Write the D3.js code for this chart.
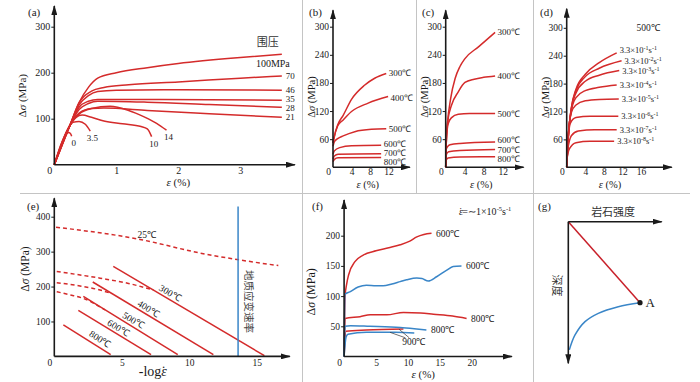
<!DOCTYPE html>
<html>
<head>
<meta charset="utf-8">
<script src="https://cdn.jsdelivr.net/npm/d3@7"></script>
<style>
  body { margin: 0; background: #fff; }
  svg { display: block; }
</style>
</head>
<body>
<svg id="chart" width="700" height="382"></svg>
<script>
// ---------- data ----------
// (a) stress-strain under different confining pressures (MPa)
const aLabels = ["100MPa", "70", "46", "35", "28", "21", "14", "10", "3.5", "0"];
const aCurves = [
    [[0, 0], [0.25, 85], [0.4, 135], [0.55, 168], [0.7, 188], [1, 200], [1.5, 211], [2, 220], [3, 233], [3.67, 240]],
    [[0, 0], [0.25, 85], [0.4, 135], [0.6, 160], [0.8, 168], [1.2, 174], [2, 180], [3, 188], [3.67, 193]],
    [[0, 0], [0.25, 85], [0.4, 130], [0.55, 150], [0.7, 159], [1, 162], [2, 163], [3.67, 162]],
    [[0, 0], [0.25, 85], [0.4, 125], [0.55, 138], [0.7, 142], [1.5, 142], [3.67, 140]],
    [[0, 0], [0.25, 85], [0.4, 120], [0.55, 133], [0.7, 138], [1.5, 136], [2.5, 131], [3.67, 125]],
    [[0, 0], [0.25, 85], [0.4, 112], [0.6, 122], [0.8, 123], [1.5, 118], [2.5, 111], [3.67, 103]],
    [[0, 0], [0.25, 85], [0.4, 110], [0.6, 122], [0.9, 127], [1.2, 118], [1.45, 104], [1.65, 90], [1.81, 75]],
    [[0, 0], [0.25, 85], [0.35, 103], [0.45, 108], [0.6, 103], [0.8, 95], [1.1, 89], [1.4, 83], [1.5, 78], [1.57, 61]],
    [[0, 0], [0.22, 78], [0.3, 92], [0.4, 94], [0.5, 88], [0.58, 73]],
    [[0, 0], [0.18, 64], [0.23, 70], [0.26, 68], [0.28, 62]]
];
const aXTicks = [1, 2, 3];
const aYTicks = [100, 200, 300];

// (b), (c) stress-strain at different temperatures
const bcTemps = ["300℃", "400℃", "500℃", "600℃", "700℃", "800℃"];
const bCurves = [
    [[0, 52], [0.2, 62], [1, 90], [2.2, 111], [4, 145], [6.8, 175], [9, 190], [11.5, 200]],
    [[0, 52], [0.2, 62], [1, 88], [2.2, 101], [4, 119], [7.6, 137], [11.9, 151]],
    [[0, 45], [0.3, 55], [1, 61], [2.2, 67], [4.7, 76], [8.3, 81], [11.5, 82]],
    [[0, 28], [0.3, 35], [1.45, 42], [4, 46], [10.4, 47]],
    [[0, 18], [0.3, 24], [1.1, 28], [10.4, 29]],
    [[0, 12], [0.3, 17], [1.1, 20.5], [10.4, 21]]
];
const cCurves = [
    [[0, 0], [0.1, 47], [0.35, 90], [1.05, 147], [2, 190], [3, 215], [4.06, 232], [6.9, 257], [10.4, 288]],
    [[0, 0], [0.1, 47], [0.4, 97], [1.24, 133], [2.65, 161], [3.5, 175], [4.06, 181], [6, 188], [8, 192], [10.4, 195]],
    [[0, 0], [0.1, 47], [0.3, 80], [0.6, 95], [1.24, 106], [2.65, 113], [5, 115], [10.4, 115]],
    [[0, 0], [0.1, 38], [0.4, 44], [0.9, 48], [3, 51], [10.4, 54]],
    [[0, 0], [0.1, 26], [0.6, 33], [3, 36], [10.4, 38]],
    [[0, 0], [0.1, 15], [0.5, 20], [3, 22], [10.4, 22.5]]
];
const bcdYTicks = [60, 120, 180, 240, 300];
const bcXTicks = [4, 8, 12];

// (d) 500℃ at different strain rates
const dRates = ["-1", "-2", "-3", "-4", "-5", "-6", "-7", "-8"];
const dCurves = [
    [[0, 0], [0.3, 60], [1, 128], [2, 168], [4, 200], [7, 225], [10.75, 246]],
    [[0, 0], [0.3, 60], [1, 127], [2, 165], [4, 195], [7, 213], [11.8, 229]],
    [[0, 0], [0.3, 60], [1, 125], [2, 160], [4, 185], [7, 198], [11.3, 208]],
    [[0, 0], [0.3, 60], [1, 122], [2, 150], [4, 165], [7, 172], [10.75, 177]],
    [[0, 0], [0.2, 50], [1, 118], [2, 134], [4, 143], [7, 146], [11.2, 147]],
    [[0, 0], [0.2, 45], [0.8, 95], [2, 107], [5, 110], [11.1, 110]],
    [[0, 0], [0.2, 35], [1, 68], [2.5, 78], [6, 81], [10.75, 81]],
    [[0, 0], [0.1, 20], [0.6, 40], [2, 53], [5, 56], [10.2, 56]]
];
const dXTicks = [4, 8, 12, 16];

// (e) strength vs -log(strain rate)
const eTemps = ["300℃", "400℃", "500℃", "600℃", "800℃"];
const eSolid = [
    [[4.37, 258], [15.57, 2]],
    [[2.85, 213], [11.79, 5]],
    [[2.15, 172], [9.15, 5]],
    [[1.78, 132], [7.17, 5]],
    [[0.67, 90], [4.18, 5]]
];
const e25 = [[0.13, 370], [6.35, 335], [10.8, 296], [16.6, 260]];
const eDashed = [
    [[0.18, 243], [3.39, 224], [5.5, 209], [7.34, 190]],
    [[0.18, 211], [2, 201], [3.39, 190], [4.25, 180]],
    [[0.18, 185], [1.2, 176], [2.15, 166], [3.76, 133]]
];
const eGeoRate = 13.62;
const eXTicks = [5, 10, 15];
const eYTicks = [100, 200, 300, 400];

// (f) strain rate ~1e-5 /s
const fRed600 = [[0, 0], [0.15, 100], [0.4, 120], [0.7, 135], [1.7, 157], [3, 168], [5, 175], [7, 180], [8.8, 185], [10.3, 191], [11.4, 198], [12.5, 202], [13.7, 204]];
const fBlue600 = [[0, 0], [0.15, 103], [0.9, 107], [2.2, 115], [3.5, 118], [5, 117], [6.1, 117], [7.5, 120], [8.8, 124], [9.8, 127], [11.4, 130], [12.2, 129], [13.2, 125], [14.5, 132], [16.1, 143], [17.1, 149], [18.4, 150]];
const fRed800 = [[0, 0], [0.15, 63], [2.5, 66], [4.1, 69], [6.7, 69], [9.3, 73], [12, 72], [14, 70], [17, 67], [19.2, 63]];
const fBlue800 = [[0, 0], [0.15, 50], [1, 51], [4, 50], [8.8, 48], [11, 46], [12.9, 44]];
const fRed900 = [[0, 0], [0.3, 42], [3.5, 44], [9.3, 45.5]];
const fBlue900 = [[0, 0], [0.3, 32], [0.6, 37], [3.5, 40], [8, 40], [11, 39]];
const fXTicks = [5, 10, 15, 20];
const fYTicks = [50, 100, 150, 200];

// (g) sketch: strength vs depth
const gRed = [[0, 0], [0.768, 0.572]];
const gBlue = [[0.768, 0.572], [0.535, 0.6], [0.321, 0.647], [0.179, 0.706], [0.072, 0.8], [0.011, 0.905]];

// ---------- drawing ----------
const red = "#d42b2b", blue = "#3a86c8", ink = "#1a1a1a";
const serif = "'Liberation Serif', 'Times New Roman', serif";
const cjk = "'Noto Sans CJK SC', sans-serif";
const svg = d3.select("#chart");

svg.append("defs").append("marker")
    .attr("id", "arrow")
    .attr("viewBox", "0 0 10 6")
    .attr("refX", 9).attr("refY", 3)
    .attr("markerWidth", 10).attr("markerHeight", 6)
    .attr("markerUnits", "userSpaceOnUse")
    .attr("orient", "auto")
    .append("path").attr("d", "M0,0L10,3L0,6Z").attr("fill", ink);

// panel separators
const sep = svg.append("g").attr("stroke", "#c4c4c4").attr("stroke-width", 1);
sep.append("line").attr("x1", 20).attr("x2", 690).attr("y1", 193.5).attr("y2", 193.5);
sep.append("line").attr("x1", 302.5).attr("x2", 302.5).attr("y1", 0).attr("y2", 382);
sep.append("line").attr("x1", 416.5).attr("x2", 416.5).attr("y1", 0).attr("y2", 193.5);
sep.append("line").attr("x1", 533.5).attr("x2", 533.5).attr("y1", 0).attr("y2", 382);

function panelLabel(txt, x, y) {
    svg.append("text").attr("x", x).attr("y", y)
        .attr("font-family", serif).attr("font-size", 11).attr("fill", ink).text(txt);
}

function sigmaTitle(g, x, y, size) {
    const t = g.append("text")
        .attr("transform", `translate(${x},${y}) rotate(-90)`)
        .attr("text-anchor", "middle")
        .attr("font-family", serif).attr("font-size", size).attr("fill", ink);
    t.append("tspan").text("Δ");
    t.append("tspan").attr("font-style", "italic").text("σ");
    t.append("tspan").text(" (MPa)");
}

function strainTitle(g, x, y, size) {
    const t = g.append("text").attr("x", x).attr("y", y)
        .attr("text-anchor", "middle")
        .attr("font-family", serif).attr("font-size", size).attr("fill", ink);
    t.append("tspan").attr("font-style", "italic").text("ε");
    t.append("tspan").text(" (%)");
}

// italic epsilon with a dot placed over it (strain rate)
function epsDot(t, size) {
    t.append("tspan").attr("font-style", "italic").text("ε");
    t.append("tspan").attr("dx", -0.4 * size).text("˙");
}

// axes with ticks, origin "0" and arrow heads
function frame(g, x, y, o) {
    g.append("g")
        .attr("transform", `translate(0,${y(0)})`)
        .call(d3.axisBottom(x).tickValues(o.xTicks).tickFormat(d3.format("d")).tickSize(0).tickPadding(o.xPad))
        .call(a => a.select(".domain").remove())
        .selectAll("text").attr("font-family", serif).attr("font-size", o.fs).attr("fill", ink);
    g.append("g")
        .attr("transform", `translate(${x(0)},0)`)
        .call(d3.axisLeft(y).tickValues(o.yTicks).tickFormat(d3.format("d")).tickSize(3).tickPadding(1))
        .call(a => a.select(".domain").remove())
        .call(a => a.selectAll("line").attr("stroke", ink))
        .selectAll("text").attr("font-family", serif).attr("font-size", o.fs).attr("fill", ink);
    g.append("text")
        .attr("x", x(0) - 2).attr("y", y(0) + o.xPad).attr("dy", "0.71em")
        .attr("text-anchor", "end")
        .attr("font-family", serif).attr("font-size", o.fs).attr("fill", ink)
        .text("0");
    g.append("line")
        .attr("x1", x(0)).attr("y1", y(0)).attr("x2", x(o.xEnd)).attr("y2", y(0))
        .attr("stroke", ink).attr("stroke-width", 1.6).attr("marker-end", "url(#arrow)");
    g.append("line")
        .attr("x1", x(0)).attr("y1", y(0)).attr("x2", x(0)).attr("y2", y(o.yEnd))
        .attr("stroke", ink).attr("stroke-width", 1.6).attr("marker-end", "url(#arrow)");
}

function curves(g, data, line, color) {
    g.append("g").selectAll("path")
        .data(data)
        .join("path")
        .attr("d", line)
        .attr("fill", "none")
        .attr("stroke", color)
        .attr("stroke-width", 1.5);
}

// ----- (a) -----
const ax = d3.scaleLinear().domain([0, 3]).range([54.3, 240.3]);
const ay = d3.scaleLinear().domain([0, 300]).range([164.7, 26.7]);
const aLine = d3.line().x(d => ax(d[0])).y(d => ay(d[1])).curve(d3.curveMonotoneX);
const ga = svg.append("g");
curves(ga, aCurves, aLine, red);
frame(ga, ax, ay, { xTicks: aXTicks, yTicks: aYTicks, xPad: 2, fs: 10, xEnd: 3.88, yEnd: 345 });
sigmaTitle(ga, ax(0) - 28, ay(150), 11);
strainTitle(ga, ax(2), ay(0) + 21.5, 11);
panelLabel("(a)", 28, 16);

const aShift = [0, 0, 0, -1, 1, 0, 0, 0, 0, 0];
aCurves.forEach((c, i) => {
    const [ex, ey] = c[c.length - 1];
    const t = ga.append("text")
        .attr("font-family", serif).attr("font-size", i === 0 ? 10 : 9).attr("fill", ink)
        .text(aLabels[i]);
    if (i === 0) {
        t.attr("x", ax(ex) - 9).attr("y", ay(ey) + 13).attr("text-anchor", "middle");
        ga.append("text")
            .attr("x", ax(ex) - 14).attr("y", ay(ey) - 8)
            .attr("text-anchor", "middle")
            .attr("font-family", cjk).attr("font-size", 11).attr("fill", "#333")
            .text("围压");
    } else if (ex > 3) {
        t.attr("x", ax(ex) + 4).attr("y", ay(ey) + aShift[i]).attr("dy", "0.35em");
    } else {
        t.attr("x", ax(ex) + 2).attr("y", ay(ey) + 10).attr("text-anchor", "middle");
    }
});

// ----- (b) and (c) -----
function tempPanel(curveData, x0, pxPerUnit, xEnd, label, labelX, shifts) {
    const x = d3.scaleLinear().domain([0, 12]).range([x0, x0 + 12 * pxPerUnit]);
    const y = d3.scaleLinear().domain([0, 300]).range([167.3, 26.7]);
    const line = d3.line().x(d => x(d[0])).y(d => y(d[1])).curve(d3.curveMonotoneX);
    const g = svg.append("g");
    curves(g, curveData, line, red);
    frame(g, x, y, { xTicks: bcXTicks, yTicks: bcdYTicks, xPad: 1, fs: 9.5, xEnd: xEnd, yEnd: 335 });
    sigmaTitle(g, x(0) - 18, y(150), 10.5);
    strainTitle(g, x(7.5), y(0) + 21, 10.5);
    panelLabel(label, labelX, 16);
    curveData.forEach((c, i) => {
        const [ex, ey] = c[c.length - 1];
        g.append("text")
            .attr("x", x(ex) + 2.5).attr("y", y(ey) + shifts[i]).attr("dy", "0.35em")
            .attr("font-family", serif).attr("font-size", 9).attr("fill", ink)
            .text(bcTemps[i]);
    });
}
tempPanel(bCurves, 333, 4.63, 16.6, "(b)", 309, [-1, 1, 0, -1.5, -1, 4.5]);
tempPanel(cCurves, 445.7, 4.75, 16.4, "(c)", 422, [0, 0, 0, -2, 0, 2]);

// ----- (d) -----
const dx = d3.scaleLinear().domain([0, 16]).range([566.7, 641.1]);
const dy = d3.scaleLinear().domain([0, 300]).range([167.3, 27.8]);
const dLine = d3.line().x(d => dx(d[0])).y(d => dy(d[1])).curve(d3.curveMonotoneX);
const gd = svg.append("g");
curves(gd, dCurves, dLine, red);
frame(gd, dx, dy, { xTicks: dXTicks, yTicks: bcdYTicks, xPad: 1, fs: 9.5, xEnd: 22.6, yEnd: 341 });
sigmaTitle(gd, dx(0) - 18, dy(150), 10.5);
strainTitle(gd, dx(9.3), dy(0) + 21, 10.5);
panelLabel("(d)", 540, 16);
gd.append("text").attr("x", 648).attr("y", 31).attr("text-anchor", "middle")
    .attr("font-family", serif).attr("font-size", 9.5).attr("fill", ink).text("500℃");
const dShift = [-3, 0.5, 0, 0, 0, 0, 0, 0];
dCurves.forEach((c, i) => {
    const [ex, ey] = c[c.length - 1];
    const t = gd.append("text")
        .attr("x", dx(ex) + 3).attr("y", dy(ey) + 3 + dShift[i])
        .attr("font-family", serif).attr("font-size", 8.5).attr("fill", ink);
    t.append("tspan").text("3.3×10");
    t.append("tspan").attr("dy", -3).attr("font-size", 6).text(dRates[i]);
    t.append("tspan").attr("dy", 3).text("s");
    t.append("tspan").attr("dy", -3).attr("font-size", 6).text("-1");
});

// ----- (e) -----
const ex = d3.scaleLinear().domain([0, 15]).range([54.3, 256.7]);
const ey = d3.scaleLinear().domain([0, 400]).range([356.4, 216.7]);
const eLine = d3.line().x(d => ex(d[0])).y(d => ey(d[1]));
const eCurve = d3.line().x(d => ex(d[0])).y(d => ey(d[1])).curve(d3.curveMonotoneX);
const ge = svg.append("g");
curves(ge, eSolid, eLine, red);
ge.append("g").selectAll("path")
    .data([e25].concat(eDashed))
    .join("path")
    .attr("d", eCurve)
    .attr("fill", "none")
    .attr("stroke", red)
    .attr("stroke-width", 1.5)
    .attr("stroke-dasharray", "4,3");
ge.append("line")
    .attr("x1", ex(eGeoRate)).attr("x2", ex(eGeoRate))
    .attr("y1", ey(0)).attr("y2", ey(429))
    .attr("stroke", blue).attr("stroke-width", 1.5);
ge.append("text")
    .attr("transform", `translate(${ex(eGeoRate) + 7},${ey(157)}) rotate(90)`)
    .attr("text-anchor", "middle")
    .attr("font-family", cjk).attr("font-size", 10.5).attr("fill", "#444")
    .text("地质应变速率");
frame(ge, ex, ey, { xTicks: eXTicks, yTicks: eYTicks, xPad: 3, fs: 9.5, xEnd: 17.45, yEnd: 453 });
sigmaTitle(ge, ex(0) - 25, ey(250), 11.5);
panelLabel("(e)", 27, 210);
const eTitle = ge.append("text")
    .attr("x", ex(7.3)).attr("y", ey(0) + 20)
    .attr("text-anchor", "middle")
    .attr("font-family", serif).attr("font-size", 14).attr("fill", ink);
eTitle.append("tspan").text("-log");
epsDot(eTitle, 14);
ge.append("text").attr("x", ex(6.85)).attr("y", ey(339)).attr("text-anchor", "middle")
    .attr("font-family", serif).attr("font-size", 9.5).attr("fill", ink).text("25℃");

const eLabelAt = [8.58, 6.97, 5.86, 4.74, 3.39];
eSolid.forEach((s, i) => {
    const [p0, p1] = s;
    const ang = Math.atan2(ey(p1[1]) - ey(p0[1]), ex(p1[0]) - ex(p0[0])) * 180 / Math.PI;
    const t = (eLabelAt[i] - p0[0]) / (p1[0] - p0[0]);
    const yv = p0[1] + t * (p1[1] - p0[1]);
    ge.append("text")
        .attr("transform", `translate(${ex(eLabelAt[i])},${ey(yv) - (i === 4 ? 9 : 7)}) rotate(${ang})`)
        .attr("text-anchor", "middle").attr("dy", "0.35em")
        .attr("font-family", serif).attr("font-size", 9.5).attr("fill", ink)
        .text(eTemps[i]);
});

// ----- (f) -----
const fx = d3.scaleLinear().domain([0, 20]).range([344.1, 471.7]);
const fy = d3.scaleLinear().domain([0, 200]).range([356.5, 235.7]);
const fLine = d3.line().x(d => fx(d[0])).y(d => fy(d[1])).curve(d3.curveMonotoneX);
const gf = svg.append("g");
curves(gf, [fRed600, fRed800, fRed900], fLine, red);
curves(gf, [fBlue600, fBlue800, fBlue900], fLine, blue);
frame(gf, fx, fy, { xTicks: fXTicks, yTicks: fYTicks, xPad: 3, fs: 9.5, xEnd: 26.3, yEnd: 259 });
sigmaTitle(gf, fx(0) - 29, fy(107), 12);
strainTitle(gf, fx(12.4), fy(0) + 21, 11);
panelLabel("(f)", 312, 210);

[[fRed600, "600℃"], [fBlue600, "600℃"], [fRed800, "800℃"], [fBlue800, "800℃"]].forEach(([s, lab]) => {
    const [px, py] = s[s.length - 1];
    gf.append("text")
        .attr("x", fx(px) + 4.5).attr("y", fy(py)).attr("dy", "0.35em")
        .attr("font-family", serif).attr("font-size", 9.5).attr("fill", ink)
        .text(lab);
});
// leader lines to the 900℃ label
gf.append("line").attr("x1", fx(8.6)).attr("y1", fy(45.3)).attr("x2", fx(10.2)).attr("y2", fy(31))
    .attr("stroke", "#333").attr("stroke-width", 0.7);
gf.append("line").attr("x1", fx(7.2)).attr("y1", fy(40)).attr("x2", fx(9.6)).attr("y2", fy(31))
    .attr("stroke", "#333").attr("stroke-width", 0.7);
gf.append("text").attr("x", fx(9.1)).attr("y", fy(25)).attr("dy", "0.35em")
    .attr("font-family", serif).attr("font-size", 9.5).attr("fill", ink).text("900℃");

const fRate = gf.append("text").attr("x", 459).attr("y", 214.5)
    .attr("font-family", serif).attr("font-size", 10).attr("fill", ink);
epsDot(fRate, 10);
fRate.append("tspan").text("=∼1×10");
fRate.append("tspan").attr("dy", -3.5).attr("font-size", 6.5).text("-5");
fRate.append("tspan").attr("dy", 3.5).text("s");
fRate.append("tspan").attr("dy", -3.5).attr("font-size", 6.5).text("-1");

// ----- (g) -----
const gx = d3.scaleLinear().domain([0, 1]).range([568.3, 661.7]);
const gy = d3.scaleLinear().domain([0, 1]).range([221.7, 363.3]);
const gLine = d3.line().x(d => gx(d[0])).y(d => gy(d[1]));
const gg = svg.append("g");
gg.append("path").datum(gRed).attr("d", gLine)
    .attr("fill", "none").attr("stroke", "#c8202a").attr("stroke-width", 1.5);
gg.append("path").datum(gBlue).attr("d", gLine.curve(d3.curveCatmullRom))
    .attr("fill", "none").attr("stroke", blue).attr("stroke-width", 1.5);
gg.append("circle").attr("cx", gx(gRed[1][0])).attr("cy", gy(gRed[1][1])).attr("r", 2.6).attr("fill", ink);
gg.append("text").attr("x", gx(gRed[1][0]) + 5.5).attr("y", gy(gRed[1][1]) + 4.5)
    .attr("font-family", serif).attr("font-size", 13).attr("fill", ink).text("A");
gg.append("line").attr("x1", gx(0)).attr("y1", gy(0)).attr("x2", gx(1)).attr("y2", gy(0))
    .attr("stroke", ink).attr("stroke-width", 1.6).attr("marker-end", "url(#arrow)");
gg.append("line").attr("x1", gx(0)).attr("y1", gy(0)).attr("x2", gx(0)).attr("y2", gy(1))
    .attr("stroke", ink).attr("stroke-width", 1.6).attr("marker-end", "url(#arrow)");
gg.append("text").attr("x", gx(0.48)).attr("y", gy(0) - 6).attr("text-anchor", "middle")
    .attr("font-family", cjk).attr("font-size", 11).attr("fill", "#333").text("岩石强度");
gg.append("text")
    .attr("transform", `translate(${gx(0) - 11},${gy(0.45)}) rotate(90)`)
    .attr("text-anchor", "middle").attr("dy", "0.35em")
    .attr("font-family", cjk).attr("font-size", 11).attr("fill", "#333").text("深度");
panelLabel("(g)", 538, 210);
</script>
</body>
</html>
